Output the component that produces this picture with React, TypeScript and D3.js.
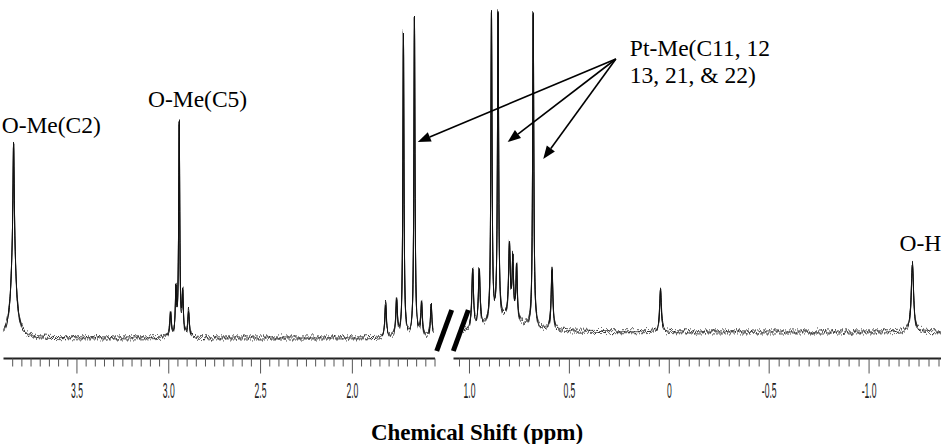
import React, { useRef, useEffect } from "react";
import * as d3 from "d3";

const W = 948;
const H = 444;

// peaks: [shift (ppm), height, half width (ppm)]
const leftPeaks: [number, number, number][] = [
  [3.845, 90, 0.016],
  [3.845, 105, 0.004],
  [2.99, 26, 0.005],
  [2.961, 45, 0.004],
  [2.943, 212, 0.0035],
  [2.924, 41, 0.004],
  [2.892, 26, 0.005],
  [1.819, 34, 0.005],
  [1.759, 36, 0.005],
  [1.722, 304, 0.0035],
  [1.662, 320, 0.0035],
  [1.623, 34, 0.005],
  [1.571, 33, 0.005],
];

const rightPeaks: [number, number, number][] = [
  [0.8, 12, 0.08],
  [0.984, 58, 0.005],
  [0.951, 58, 0.005],
  [0.89, 310, 0.0035],
  [0.857, 308, 0.0035],
  [0.8, 73, 0.005],
  [0.783, 57, 0.004],
  [0.764, 54, 0.004],
  [0.681, 315, 0.0035],
  [0.587, 62, 0.005],
  [0.044, 42, 0.005],
  [-1.217, 68, 0.007],
];

const leftBaseline = 0;
const rightBaseline = 6;

const leftTickLabels = ["3.5", "3.0", "2.5", "2.0"];
const rightTickLabels = ["1.0", "0.5", "0", "-0.5", "-1.0"];

const peakLabels = [
  { text: "O-Me(C2)", seg: "left", ppm: 3.91, y: 205 },
  { text: "O-Me(C5)", seg: "left", ppm: 3.113, y: 231 },
  { text: "Pt-Me(C11, 12", seg: "right", ppm: 0.1975, y: 282 },
  { text: "13, 21, & 22)", seg: "right", ppm: 0.1975, y: 255 },
  { text: "O-H", seg: "right", ppm: -1.1525, y: 87 },
];

const arrowFrom = { seg: "right", ppm: 0.2675, y: 279 };
const arrowTo = [
  { seg: "left", ppm: 1.644, y: 196 },
  { seg: "right", ppm: 0.809, y: 196 },
  { seg: "right", ppm: 0.631, y: 179 },
];

function trace(peaks: [number, number, number][], from: number, to: number, base: number) {
  const step = 0.001;
  const xs = d3.range(0, Math.round((from - to) / step) + 1).map((i) => from - i * step);
  peaks.forEach((p) => xs.push(p[0]));
  xs.sort((a, b) => b - a);
  return xs
    .filter((v) => v <= from && v >= to)
    .map((v) => [v, base + d3.sum(peaks, ([c, h, g]) => (h * g * g) / ((v - c) ** 2 + g * g))]);
}

export default function App() {
  const svgRef = useRef<SVGSVGElement>(null);

  useEffect(() => {
    const svg = d3.select(svgRef.current);
    svg.selectAll("*").remove();

    const xLeft = d3.scaleLinear().domain([3.9, 1.55]).range([3.5, 435]);
    const xRight = d3.scaleLinear().domain([1.08, -1.36]).range([453.5, 941]);
    const y = d3.scaleLinear().domain([0, 330]).range([338, 8]);
    const xOf = (seg: string) => (seg === "left" ? xLeft : xRight);
    const axisY = 358.5;

    // vertical-only jitter texture for the trace
    const seeds = [4, 11, 23];
    const defs = svg.append("defs");
    seeds.forEach((seed) => {
      const f = defs
        .append("filter")
        .attr("id", `noise${seed}`)
        .attr("color-interpolation-filters", "sRGB")
        .attr("x", "-2%")
        .attr("y", "-8%")
        .attr("width", "104%")
        .attr("height", "116%");
      f.append("feTurbulence")
        .attr("type", "fractalNoise")
        .attr("baseFrequency", "0.8 0.005")
        .attr("numOctaves", 1)
        .attr("seed", seed)
        .attr("result", "t");
      f.append("feColorMatrix")
        .attr("in", "t")
        .attr("type", "matrix")
        .attr("values", "0 0 0 0 0.5  0 1 0 0 0  0 0 0 0 0  0 0 0 0 1")
        .attr("result", "m");
      f.append("feDisplacementMap")
        .attr("in", "SourceGraphic")
        .attr("in2", "m")
        .attr("scale", 13)
        .attr("xChannelSelector", "R")
        .attr("yChannelSelector", "G");
    });

    // spectrum
    const line = (sx: d3.ScaleLinear<number, number>) =>
      d3
        .line<number[]>()
        .x((d) => sx(d[0]))
        .y((d) => y(d[1]));

    const leftD = line(xLeft)(trace(leftPeaks, 3.9, 1.56, leftBaseline));
    const rightD = line(xRight)(trace(rightPeaks, 1.0375, -1.36, rightBaseline));
    [leftD, rightD].forEach((d) => {
      seeds.forEach((seed) => {
        svg
          .append("path")
          .attr("d", d)
          .attr("fill", "none")
          .attr("stroke", "#111")
          .attr("stroke-width", 0.9)
          .attr("filter", `url(#noise${seed})`);
      });
    });

    // axes
    const drawAxis = (sx: d3.ScaleLinear<number, number>, kFrom: number, kTo: number, labels: string[]) => {
      const [r0, r1] = sx.range();
      svg
        .append("line")
        .attr("x1", r0)
        .attr("x2", r1)
        .attr("y1", axisY)
        .attr("y2", axisY)
        .attr("stroke", "#222")
        .attr("stroke-width", 2);
      d3.range(kFrom, kTo + 1).forEach((k) => {
        const px = sx(k * 0.05);
        svg
          .append("line")
          .attr("x1", px)
          .attr("x2", px)
          .attr("y1", axisY)
          .attr("y2", axisY + (k % 10 === 0 ? 15 : 8))
          .attr("stroke", "#555")
          .attr("stroke-width", 1);
      });
      labels.forEach((t) => {
        const px = sx(+t);
        svg
          .append("text")
          .attr("transform", `translate(${px},398) scale(0.4,1)`)
          .attr("text-anchor", "middle")
          .style("font-family", "'Liberation Sans', Arial, sans-serif")
          .style("font-size", "21.5px")
          .attr("fill", "#222")
          .text(t);
      });
    };
    drawAxis(xLeft, 31, 77, leftTickLabels);
    drawAxis(xRight, -27, 21, rightTickLabels);

    // axis break
    [
      [451.7, 310, 436.7, 351],
      [468.3, 310, 453.3, 351],
    ].forEach(([x1, y1, x2, y2]) => {
      svg
        .append("line")
        .attr("x1", x1)
        .attr("y1", y1)
        .attr("x2", x2)
        .attr("y2", y2)
        .attr("stroke", "#000")
        .attr("stroke-width", 5);
    });

    // labels
    peakLabels.forEach((l) => {
      svg
        .append("text")
        .attr("x", xOf(l.seg)(l.ppm))
        .attr("y", y(l.y))
        .style("font-family", "'Liberation Serif', 'Times New Roman', serif")
        .style("font-size", "23.5px")
        .attr("fill", "#000")
        .text(l.text);
    });

    // arrows
    const ox = xOf(arrowFrom.seg)(arrowFrom.ppm);
    const oy = y(arrowFrom.y);
    arrowTo.forEach((a) => {
      const tx = xOf(a.seg)(a.ppm);
      const ty = y(a.y);
      const ang = Math.atan2(ty - oy, tx - ox);
      const len = 13;
      const hw = 5;
      const bx = tx - len * Math.cos(ang);
      const by = ty - len * Math.sin(ang);
      svg
        .append("line")
        .attr("x1", ox)
        .attr("y1", oy)
        .attr("x2", bx)
        .attr("y2", by)
        .attr("stroke", "#000")
        .attr("stroke-width", 1.6);
      const pts = [
        [tx, ty],
        [bx - hw * Math.sin(ang), by + hw * Math.cos(ang)],
        [bx + hw * Math.sin(ang), by - hw * Math.cos(ang)],
      ];
      svg.append("polygon").attr("points", pts.map((p) => p.join(",")).join(" ")).attr("fill", "#000");
    });

    // title
    svg
      .append("text")
      .attr("x", 477)
      .attr("y", 440)
      .attr("text-anchor", "middle")
      .style("font-family", "'Liberation Serif', 'Times New Roman', serif")
      .style("font-size", "23px")
      .style("font-weight", "bold")
      .attr("fill", "#000")
      .text("Chemical Shift (ppm)");
  }, []);

  return (
    <svg
      ref={svgRef}
      width={W}
      height={H}
      style={{ position: "absolute", left: 0, top: 0, background: "#fff" }}
    />
  );
}
